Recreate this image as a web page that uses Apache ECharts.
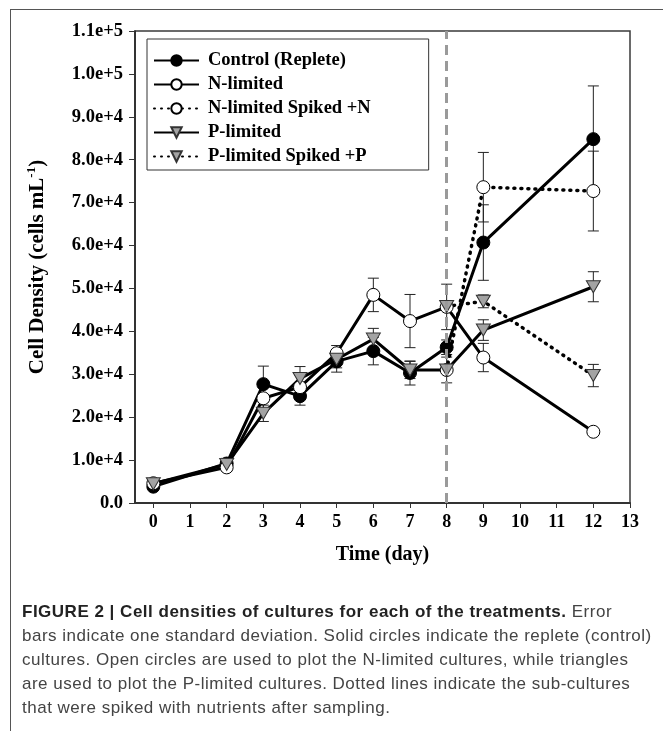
<!DOCTYPE html>
<html>
<head>
<meta charset="utf-8">
<script src="https://cdn.jsdelivr.net/npm/echarts@6/dist/echarts.min.js"></script>
<style>
    body{ margin:0; background:#fff; }
    #wrap{ position:relative; width:663px; height:731px; overflow:hidden; }
    #frame{ position:absolute; left:10px; top:9px; width:660px; height:740px;
        border-left:1.5px solid #555; border-top:1.5px solid #555; }
    #chart{ position:absolute; left:0; top:0; width:663px; height:731px; }
    #caption{ position:absolute; left:22px; top:600px; font-family:'Liberation Sans',Arial,sans-serif;
        font-size:17px; letter-spacing:0.5px; line-height:24px; color:#444; white-space:nowrap; }
    #caption b{ color:#222; }
</style>
</head>
<body>
<div id="wrap">
    <div id="frame"></div>
    <div id="chart"></div>
    <div id="caption">
        <b>FIGURE 2 | Cell densities of cultures for each of the treatments.</b> Error<br>
        bars indicate one standard deviation. Solid circles indicate the replete (control)<br>
        cultures. Open circles are used to plot the N-limited cultures, while triangles<br>
        are used to plot the P-limited cultures. Dotted lines indicate the sub-cultures<br>
        that were spiked with nutrients after sampling.
    </div>
</div>
<script>
// 数据
var days = [0, 2, 3, 4, 5, 6, 7, 8, 9, 12];
var spikeDays = [8, 9, 12];
var xTicks = [0, 1, 2, 3, 4, 5, 6, 7, 8, 9, 10, 11, 12, 13];

var control   = [3800, 9200, 27700, 24900, 33000, 35400, 30300, 36300, 60700, 84800];
var controlSd = [300, 1200, 4200, 2100, 2500, 3200, 2800, 1700, 8800, 12400];
var nLim      = [4600, 8300, 24400, 27000, 34900, 48500, 42400, 45700, 33900, 16600];
var nLimSd    = [300, 800, 2500, 2800, 1800, 3900, 6200, 5300, 3300, 400];
var pLim      = [4500, 9000, 20900, 29000, 33500, 38200, 31000, 31000, 40300, 50400];
var pLimSd    = [300, 1000, 1900, 2800, 2000, 2500, 2000, 3000, 2400, 3500];
var nSpiked   = [31000, 73600, 72700];
var nSpikedSd = [0, 8100, 9300];
var pSpiked   = [45800, 47000, 29700];
var pSpikedSd = [0, 1500, 2600];

function pairs(xs, ys){
    return xs.map(function(x, i){ return [x, ys[i]]; });
}
function errs(xs, ys, sds){
    return xs.map(function(x, i){ return [x, ys[i], sds[i]]; });
}
var errData = [].concat(
    errs(days, control, controlSd),
    errs(days, nLim, nLimSd),
    errs(spikeDays, nSpiked, nSpikedSd),
    errs(days, pLim, pLimSd),
    errs(spikeDays, pSpiked, pSpikedSd)
);

var serif = "'Liberation Serif','Times New Roman',serif";

function renderErr(params, api){
    var x = api.value(0), y = api.value(1), sd = api.value(2);
    if(!sd) return;
    var top = api.coord([x, y + sd]);
    var bot = api.coord([x, y - sd]);
    var w = 5.5;
    var st = { stroke:'#222', lineWidth:1 };
    return {
        type:'group',
        children:[
            { type:'line', shape:{ x1:top[0], y1:top[1], x2:bot[0], y2:bot[1] }, style:st },
            { type:'line', shape:{ x1:top[0]-w, y1:top[1], x2:top[0]+w, y2:top[1] }, style:st },
            { type:'line', shape:{ x1:bot[0]-w, y1:bot[1], x2:bot[0]+w, y2:bot[1] }, style:st }
        ]
    };
}

var circleFill = { color:'#000', borderColor:'#000', borderWidth:1 };
var circleOpen = { color:'#fff', borderColor:'#000', borderWidth:1 };
var triFill = { color:'#a3a3a3', borderColor:'#333', borderWidth:1 };
var solid = { color:'#000', width:3 };
var dotted = { color:'#000', width:3.5, type:[1, 6], cap:'round' };

var myChart = echarts.init(document.getElementById('chart'));
myChart.setOption({
    animation:false,
    grid:{ left:135, right:33, top:31, bottom:228, show:true, borderColor:'#3a3a3a', borderWidth:1.5, backgroundColor:'transparent' },
    legend:{
        data:['Control (Replete)', 'N-limited', 'N-limited Spiked +N', 'P-limited', 'P-limited Spiked +P'],
        orient:'vertical',
        left:147, top:39,
        itemWidth:45, itemHeight:13, itemGap:5,
        padding:[12, 58, 4, 6],
        borderColor:'#333', borderWidth:1,
        backgroundColor:'#fff',
        textStyle:{ fontFamily:serif, fontWeight:'bold', fontSize:18.5, color:'#000', padding:[0, 0, 0, 4] }
    },
    xAxis:{
        type:'value', min:-0.5, max:13,
        name:'Time (day)', nameLocation:'middle', nameGap:42,
        nameTextStyle:{ fontFamily:serif, fontWeight:'bold', fontSize:20, color:'#000' },
        axisLine:{ onZero:false, lineStyle:{ color:'#333', width:2 } },
        axisTick:{ customValues:xTicks, length:5, lineStyle:{ color:'#333' } },
        axisLabel:{ customValues:xTicks, margin:10, fontFamily:serif, fontWeight:'bold', fontSize:18, color:'#000' },
        splitLine:{ show:false }
    },
    yAxis:{
        type:'value', min:0, max:110000, interval:10000,
        name:'{a|Cell Density (cells mL}{b|-1}{a|)}', nameLocation:'middle', nameGap:84,
        nameTextStyle:{
            rich:{
                a:{ fontFamily:serif, fontWeight:'bold', fontSize:21, color:'#000', lineHeight:26, verticalAlign:'middle' },
                b:{ fontFamily:serif, fontWeight:'bold', fontSize:13, color:'#000', lineHeight:26, verticalAlign:'top' }
            }
        },
        axisLine:{ show:true, onZero:false, lineStyle:{ color:'#222', width:1.5 } },
        axisTick:{ show:true, length:6, lineStyle:{ color:'#333' } },
        axisLabel:{
            margin:12, fontFamily:serif, fontWeight:'bold', fontSize:18.5, color:'#000',
            formatter:function(v){ return v === 0 ? '0.0' : v.toExponential(1); }
        },
        splitLine:{ show:false }
    },
    series:[
        {
            type:'custom', name:'errors', z:1, renderItem:renderErr,
            encode:{ x:0, y:1 }, data:errData, silent:true,
            markLine:{
                silent:true, symbol:'none', label:{ show:false },
                lineStyle:{ color:'#9a9a9a', width:3, type:[10, 6] },
                data:[{ xAxis:8 }]
            }
        },
        { name:'Control (Replete)', type:'line', z:3, data:pairs(days, control),
          symbol:'circle', symbolSize:13, itemStyle:circleFill, lineStyle:solid },
        { name:'N-limited', type:'line', z:3, data:pairs(days, nLim),
          symbol:'circle', symbolSize:13, itemStyle:circleOpen, lineStyle:solid },
        { name:'N-limited Spiked +N', type:'line', z:3, data:pairs(spikeDays, nSpiked),
          symbol:'circle', symbolSize:13, itemStyle:circleOpen, lineStyle:dotted },
        { name:'P-limited', type:'line', z:3, data:pairs(days, pLim),
          symbol:'triangle', symbolRotate:180, symbolSize:[14, 12], itemStyle:triFill, lineStyle:solid },
        { name:'P-limited Spiked +P', type:'line', z:3, data:pairs(spikeDays, pSpiked),
          symbol:'triangle', symbolRotate:180, symbolSize:[14, 12], itemStyle:triFill, lineStyle:dotted }
    ]
});
</script>
</body>
</html>
